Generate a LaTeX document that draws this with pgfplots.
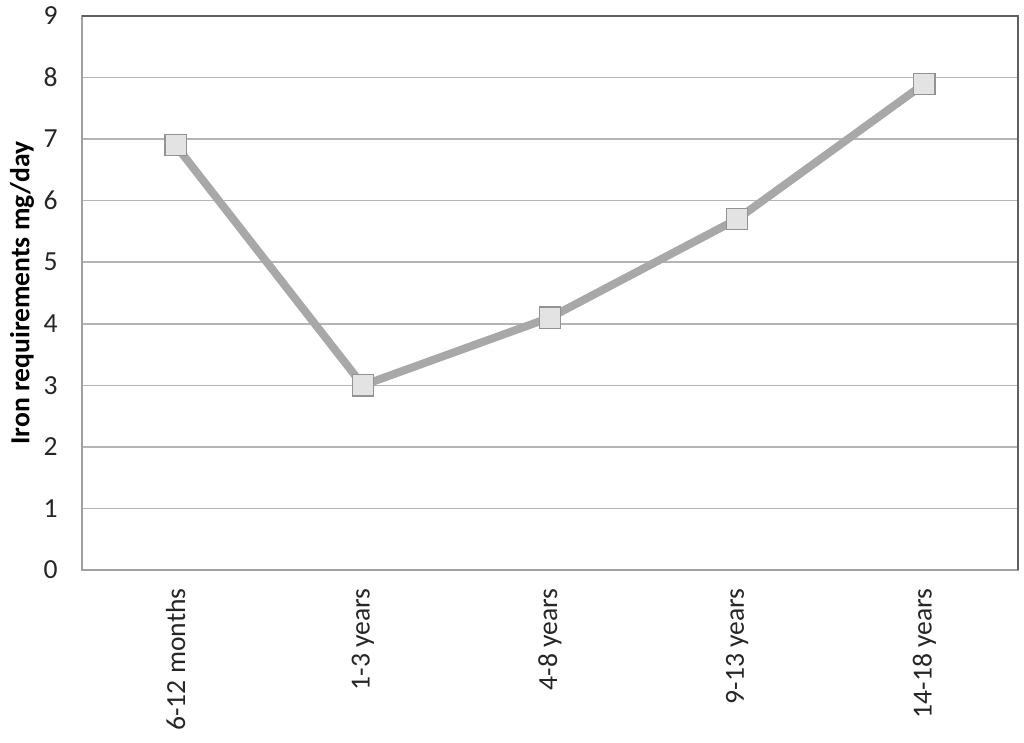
\documentclass[border=0pt]{standalone}
\usepackage{fontspec}
\setmainfont{Carlito}
\usepackage{pgfplots}
\pgfplotsset{compat=1.18}
\definecolor{linegray}{HTML}{A8A8A8}
\definecolor{gridgray}{HTML}{B4B4B4}
\definecolor{framegray}{HTML}{A0A0A0}
\definecolor{darkframe}{HTML}{606060}
\begin{document}
\begin{tikzpicture}
\useasboundingbox (-41pt,-86.5pt) rectangle (471pt,285pt);
\begin{axis}[
  at={(0,0)}, anchor=south west,
  scale only axis, width=468pt, height=277pt,
  xmin=-0.5, xmax=4.5, ymin=0, ymax=9,
  xtick={0,1,2,3,4},
  xticklabels={6-12 months,1-3 years,4-8 years,9-13 years,14-18 years},
  ytick={0,1,...,9},
  major tick length=0pt,
  ymajorgrids, grid style={gridgray, line width=0.8pt},
  axis line style={framegray, line width=0.8pt},
  tick label style={font=\fontsize{13.8}{16}\selectfont, text=black!85},
  /pgf/number format/assume math mode=true,
  xticklabel style={rotate=90, anchor=east, inner sep=0pt},
  xticklabel shift=9pt,
  yticklabel style={anchor=east, inner sep=0pt},
  yticklabel shift=12pt,
  ylabel={\textbf{Iron requirements mg/day}},
  every axis y label/.style={at={(axis description cs:-0.064,0.5)}, rotate=90, anchor=center, font=\fontsize{13.8}{16}\selectfont},
  clip=false,
]
\addplot[linegray, line width=4pt, mark=square*, mark size=5.3pt,
  mark options={draw=gray!85, fill=gray!22, line width=0.6pt}]
  coordinates {(0,6.9) (1,3.0) (2,4.1) (3,5.7) (4,7.9)};
\draw[darkframe, line width=1pt] (rel axis cs:0,1) -- (rel axis cs:1,1) -- (rel axis cs:1,0);
\end{axis}
\end{tikzpicture}
\end{document}
